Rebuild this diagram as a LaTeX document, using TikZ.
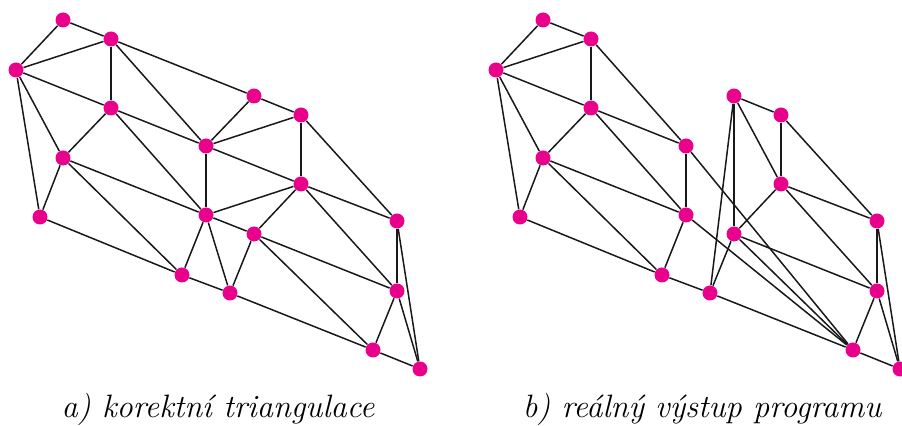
\documentclass[tikz,border=0pt]{standalone}
\usepackage{tikz}
\definecolor{dotpink}{RGB}{233,0,139}

\begin{document}
\begin{tikzpicture}[
    x=0.5pt, y=-0.5pt,
    dot/.style={circle, fill=dotpink, inner sep=0pt, minimum size=7.5pt},
    edge/.style={line width=0.75pt, black!90},
    captext/.style={anchor=base, font=\fontsize{16.2}{19}\selectfont\itshape},
]
\useasboundingbox (0,0) rectangle (902,426);

% Points of both meshes (b) is a) moved right
\foreach \s/\dx in {l/0, r/480} {
  \node[dot] (\s A) at (63+\dx,20)   {};
  \node[dot] (\s B) at (111+\dx,39)  {};
  \node[dot] (\s C) at (16+\dx,70)   {};
  \node[dot] (\s D) at (111+\dx,108) {};
  \node[dot] (\s E) at (254+\dx,96)  {};
  \node[dot] (\s F) at (301+\dx,115) {};
  \node[dot] (\s G) at (63+\dx,158)  {};
  \node[dot] (\s H) at (206+\dx,146) {};
  \node[dot] (\s I) at (301+\dx,184) {};
  \node[dot] (\s J) at (40+\dx,217)  {};
  \node[dot] (\s K) at (206+\dx,215) {};
  \node[dot] (\s L) at (254+\dx,234) {};
  \node[dot] (\s M) at (397+\dx,221) {};
  \node[dot] (\s N) at (182+\dx,275) {};
  \node[dot] (\s O) at (230+\dx,293) {};
  \node[dot] (\s P) at (397+\dx,291) {};
  \node[dot] (\s Q) at (373+\dx,350) {};
  \node[dot] (\s R) at (420+\dx,369) {};
}

% a) correct triangulation
\foreach \a/\b in {A/B, A/C, B/C, B/D, B/H, B/E, C/D, C/G, C/J, D/G, D/H, D/K,
                   G/J, G/K, G/N, J/N, H/E, H/F, H/I, H/K, E/F, F/I, F/M,
                   I/K, I/L, I/M, I/P, K/L, K/N, K/O, L/O, L/P, L/Q,
                   N/O, O/Q, Q/R, Q/P, P/M, M/R, P/R}
  \draw[edge] (l\a) -- (l\b);

% b) program output
\foreach \a/\b in {A/B, A/C, B/C, B/D, B/H, C/D, C/G, C/J, D/G, D/H, D/K,
                   G/J, G/K, G/N, J/N, H/K, H/Q, K/N, K/Q, N/O, O/Q, O/E,
                   O/L, E/L, E/F, E/I, F/I, F/M, I/L, I/M, I/P, L/P, L/Q,
                   M/P, M/R, P/Q, P/R, Q/R}
  \draw[edge] (r\a) -- (r\b);

% Captions
\node[captext] (capa) at (218,418) {a) korektní triangulace};
\node[captext] (capb) at (702,418) {b) reálný výstup programu};

\end{tikzpicture}
\end{document}
